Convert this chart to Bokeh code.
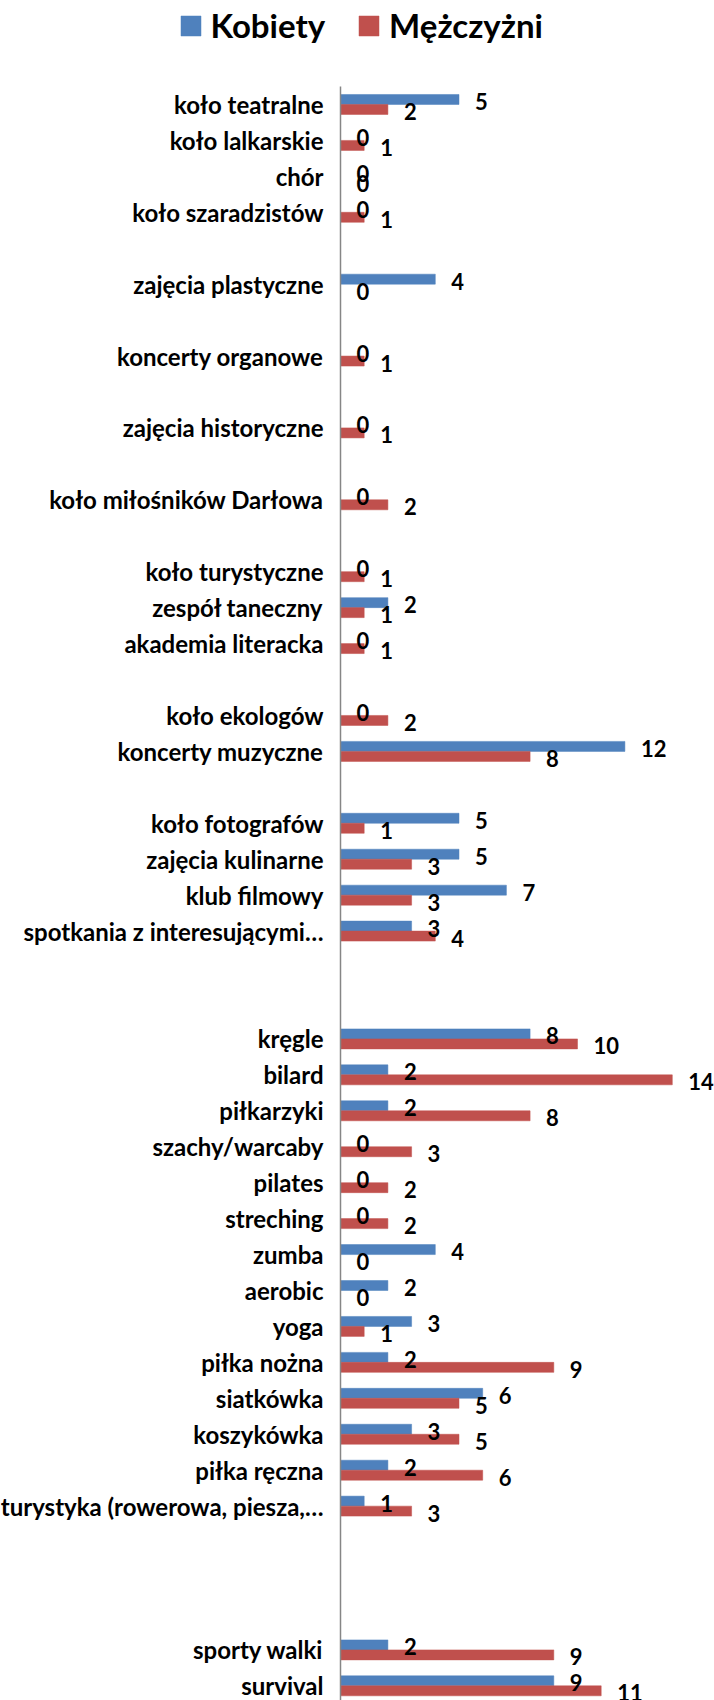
from bokeh.plotting import figure
from bokeh.models import Range1d, FixedTicker, ColumnDataSource, Legend, LegendItem
from bokeh.transform import dodge
from bokeh.core.properties import value
from bokeh.embed import file_html
from bokeh.resources import INLINE

# ---- data (top to bottom; "" = empty slot in the original chart) ----
categories = [
    "koło teatralne", "koło lalkarskie", "chór", "koło szaradzistów", "",
    "zajęcia plastyczne", "", "koncerty organowe", "", "zajęcia historyczne", "",
    "koło miłośników Darłowa", "", "koło turystyczne", "zespół taneczny",
    "akademia literacka", "", "koło ekologów", "koncerty muzyczne", "",
    "koło fotografów", "zajęcia kulinarne", "klub filmowy",
    "spotkania z interesującymi…", "", "",
    "kręgle", "bilard", "piłkarzyki", "szachy/warcaby", "pilates", "streching",
    "zumba", "aerobic", "yoga", "piłka nożna", "siatkówka", "koszykówka",
    "piłka ręczna", "turystyka (rowerowa, piesza,…", "", "", "",
    "sporty walki", "survival",
]
kobiety = [
    5, 0, 0, 0, None,
    4, None, 0, None, 0, None,
    0, None, 0, 2,
    0, None, 0, 12, None,
    5, 5, 7,
    3, None, None,
    8, 2, 2, 0, 0, 0,
    4, 2, 3, 2, 6, 3,
    2, 1, None, None, None,
    2, 9,
]
mezczyzni = [
    2, 1, 0, 1, None,
    0, None, 1, None, 1, None,
    2, None, 1, 1,
    1, None, 2, 8, None,
    1, 3, 3,
    4, None, None,
    10, 14, 8, 3, 2, 2,
    0, 0, 1, 9, 5, 5,
    6, 3, None, None, None,
    9, 11,
]
series_names = ["Kobiety", "Mężczyżni"]

FONT = "Lato"
BLUE = "#4F81BD"
RED = "#C0504D"

W, H = 714, 1700
AXIS_X, TOP = 340, 86          # pixel position of the value axis / first slot top
PX_PER_UNIT, PX_PER_SLOT = 23.7, 35.94

named = [i for i, c in enumerate(categories) if c]

src_k = ColumnDataSource(dict(y=named, v=[kobiety[i] for i in named],
                              t=[str(kobiety[i]) for i in named]))
src_m = ColumnDataSource(dict(y=named, v=[mezczyzni[i] for i in named],
                              t=[str(mezczyzni[i]) for i in named]))

y_bottom = -0.5 + (H - TOP) / PX_PER_SLOT
y_top = -0.5 - TOP / PX_PER_SLOT
p = figure(width=W, height=H,
           x_range=Range1d(-AXIS_X / PX_PER_UNIT, (W - AXIS_X) / PX_PER_UNIT),
           y_range=Range1d(start=y_bottom, end=y_top),
           output_backend="svg", toolbar_location=None,
           x_axis_location=None,
           min_border_left=0, min_border_top=0, min_border_bottom=0,
           min_border_right=0)
p.outline_line_color = None
p.xgrid.visible = False
p.ygrid.visible = False

BH = 0.278
rk = p.hbar(y=dodge("y", -BH / 2, range=p.y_range), right="v", left=0, height=BH,
            source=src_k, fill_color=BLUE, line_color=BLUE, line_width=0.5)
rm = p.hbar(y=dodge("y", BH / 2, range=p.y_range), right="v", left=0, height=BH,
            source=src_m, fill_color=RED, line_color=RED, line_width=0.5)

for src, off in ((src_k, -BH / 2), (src_m, BH / 2)):
    p.text(x="v", y=dodge("y", off, range=p.y_range), text="t", source=src,
           x_offset=16, y_offset=2, text_baseline="middle", text_align="left",
           text_font=value(FONT), text_font_style="bold", text_font_size="22px",
           text_color="black")

ax = p.yaxis[0]
ax.fixed_location = 0
ax.bounds = (-0.5, y_bottom)
ax.ticker = FixedTicker(ticks=named)
ax.major_label_overrides = {i: categories[i] for i in named}
ax.axis_line_color = "#868686"
ax.axis_line_width = 1.5
ax.major_tick_line_color = None
ax.minor_tick_line_color = None
ax.major_tick_out = 0
ax.major_tick_in = 0
ax.major_label_standoff = 17
ax.major_label_text_font = FONT
ax.major_label_text_font_style = "bold"
ax.major_label_text_font_size = "24px"
ax.major_label_text_color = "black"

legend = Legend(items=[LegendItem(label=series_names[0], renderers=[rk]),
                       LegendItem(label=series_names[1], renderers=[rm])],
                orientation="horizontal", location=(177.5, 1655),
                glyph_width=25, glyph_height=25, label_standoff=8, spacing=31,
                padding=0, margin=0, border_line_color=None,
                background_fill_alpha=0,
                label_text_font=FONT, label_text_font_style="bold",
                label_text_font_size="33px", label_text_color="black")
p.add_layout(legend, "center")

open("out.html", "w").write(file_html(p, INLINE))
